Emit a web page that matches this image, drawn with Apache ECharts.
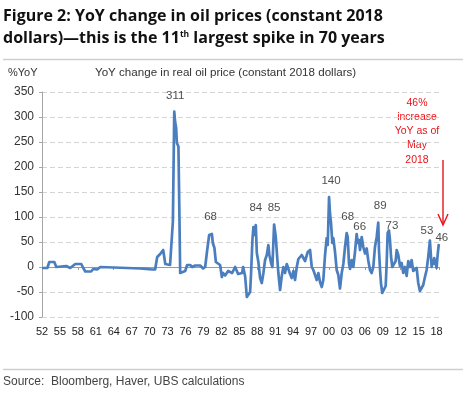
<!DOCTYPE html>
<html>
<head>
<meta charset="utf-8">
<script src="https://cdn.jsdelivr.net/npm/echarts@6/dist/echarts.min.js"></script>
<style>html,body{margin:0;padding:0;background:#fff}#c{width:470px;height:393px}</style>
</head>
<body>
<div id="c"></div>
<script>
// Decimal year of each reading (time axis) and YoY % change in real oil price
const years = [1952.0,1952.89,1953.22,1954.06,1954.39,1954.72,1956.06,1956.72,1957.57,1958.57,1958.9,1959.24,1960.22,1960.57,1961.22,1961.74,1966.26,1968.42,1970.42,1970.92,1971.27,1971.77,1972.27,1972.62,1973.42,1973.72,1973.89,1974.12,1974.27,1974.44,1974.56,1974.82,1974.99,1975.11,1975.95,1976.28,1976.78,1977.12,1977.62,1978.45,1978.95,1979.29,1979.57,1979.96,1980.2,1980.41,1980.57,1980.84,1981.08,1981.29,1981.79,1982.08,1982.29,1982.63,1983.13,1983.8,1984.3,1984.8,1985.47,1985.64,1985.97,1986.26,1986.42,1986.81,1986.97,1987.19,1987.36,1987.53,1987.76,1987.93,1988.19,1988.48,1988.76,1989.03,1989.31,1989.6,1989.86,1990.03,1990.32,1990.53,1990.82,1991.1,1991.37,1991.53,1991.82,1992.1,1992.37,1992.65,1992.94,1993.21,1993.49,1993.77,1994.04,1994.32,1994.61,1994.88,1995.16,1995.44,1996.0,1996.45,1996.83,1997.12,1997.38,1997.67,1997.95,1998.22,1998.5,1998.79,1999.05,1999.34,1999.62,1999.79,2000.01,2000.17,2000.34,2000.56,2000.72,2001.01,2001.29,2001.56,2001.84,2002.13,2002.4,2002.68,2002.96,2003.13,2003.35,2003.52,2003.8,2004.07,2004.35,2004.63,2004.8,2005.02,2005.19,2005.47,2005.74,2006.02,2006.31,2006.57,2006.86,2007.14,2007.41,2007.69,2007.98,2008.24,2008.36,2008.53,2008.69,2008.91,2009.2,2009.48,2009.65,2009.81,2010.03,2010.2,2010.37,2010.58,2010.87,2011.15,2011.32,2011.59,2011.87,2012.15,2012.42,2012.71,2012.99,2013.26,2013.54,2013.82,2014.09,2014.38,2014.66,2014.93,2015.21,2015.49,2015.76,2016.05,2016.33,2016.6,2016.88,2017.05,2017.17,2017.27,2017.44,2017.6,2017.83,2018.0,2018.17,2018.37];
const yoyValues = [-2,-2,10,10,0,2,2,-2,6,6,-2,-9,-9,-4,-5,0,-2,-3,-5,-5,20,26,34,6,4,8,91,311,290,278,248,241,98,-12,-8,4,4,0,3,3,-3,0,28,64,68,66,48,38,10,8,4,-20,-12,-17,-8,-12,0,-14,-12,0,-18,-60,-64,-50,-12,54,80,64,84,28,10,-22,-32,-12,14,24,44,24,8,0,85,60,14,-12,-46,-18,0,-12,6,-4,-14,-22,-8,-26,0,16,12,24,12,30,34,0,-6,-16,-26,-12,-30,-40,-26,24,58,44,140,107,88,48,58,30,-6,-16,-43,-12,6,40,68,60,6,-4,14,0,30,66,48,54,34,60,40,27,37,13,-6,-12,0,40,60,89,34,-4,-32,-52,-56,-38,8,68,73,54,22,0,-4,12,34,24,2,8,-12,0,-18,12,0,14,-8,-12,-2,-32,-48,-46,-36,-20,-6,20,53,50,0,14,6,18,14,-2,24,46];
// Labelled peaks
const peakYears  = [1974.12, 1980.2, 1987.76, 1990.82, 2000.01, 2002.96, 2004.63, 2008.24, 2010.03, 2016.88, 2018.37];
const peakValues = [311, 68, 84, 85, 140, 68, 66, 89, 73, 53, 46];
const peakLabelOffsets = [[1,-16],[0,-16],[0,-17],[0,-16.5],[2,-16],[1,-16],[3,-7],[2,-16.5],[3,-5],[-3,-9.5],[3,-6.5]];
// Axis settings
const yMin = -100, yMax = 350, yStep = 50;
const xMin = 1952, xMax = 2018.4, xLabelStep = 3, xTickStep = 6;
const noteLines = ['46%', 'increase', 'YoY as of', 'May', '2018'];

const chart = echarts.init(document.getElementById('c'), null, {renderer: 'canvas'});
const RED = '#e8141a';
const graphics = [
  {type:'line', shape:{x1:3,y1:59.5,x2:463,y2:59.5}, style:{stroke:'#cfcfcf', lineWidth:1.5}},
  {type:'line', shape:{x1:3,y1:369.5,x2:463,y2:369.5}, style:{stroke:'#cfcfcf', lineWidth:1.5}},
  {type:'line', shape:{x1:443,y1:160,x2:443,y2:224}, style:{stroke:RED, lineWidth:1.4}},
  {type:'polyline', shape:{points:[[438,214],[443,225],[448,214]]}, style:{stroke:RED, lineWidth:1.4, fill:null}}
];
noteLines.forEach((t, i) => graphics.push({
  type:'text', x:417, y:103 + i*14.2,
  style:{text:t, fill:RED, font:'10.5px "Liberation Sans"', align:'center', verticalAlign:'middle'}
}));

chart.setOption({
  animation: false,
  backgroundColor: '#fff',
  title: [
    {left: 3, top: 5, padding: 0,
     text: '{b|Figure 2: YoY change in oil prices (constant 2018}\n{b|dollars)—this is the 11}{s|th}{b| largest spike in 70 years}',
     textStyle: {rich: {
       b: {fontFamily:'Open Sans', fontWeight:'bold', fontSize:16, lineHeight:22, color:'#111'},
       s: {fontFamily:'Open Sans', fontWeight:'bold', fontSize:8.5, lineHeight:22, verticalAlign:'middle', padding:[0,0,7,0], color:'#111'}
     }}},
    {left: 8, top: 67, padding: 0, text: '%YoY', textStyle:{fontFamily:'Liberation Sans', fontWeight:'normal', fontSize:11, color:'#333'}},
    {left: 95, top: 67, padding: 0, text: 'YoY change in real oil price (constant 2018 dollars)', textStyle:{fontFamily:'Liberation Sans', fontWeight:'normal', fontSize:11.6, color:'#333'}},
    {left: 3, top: 376, padding: 0, text: 'Source:  Bloomberg, Haver, UBS calculations', textStyle:{fontFamily:'Liberation Sans', fontWeight:'normal', fontSize:12, color:'#444'}}
  ],
  grid: {left: 42, right: 31, top: 92, bottom: 76, containLabel: false},
  xAxis: [
    {type:'value', min:xMin, max:xMax, interval:xTickStep, position:'bottom',
     axisLine:{show:true, onZero:true, lineStyle:{color:'#9a9a9a', width:1}},
     axisTick:{show:true, length:3, lineStyle:{color:'#9a9a9a'}},
     axisLabel:{show:false}, splitLine:{show:false}},
    {type:'value', min:xMin, max:xMax, interval:xLabelStep, position:'bottom',
     axisLine:{show:false, onZero:false}, axisTick:{show:false}, splitLine:{show:false},
     axisLabel:{show:true, margin:9, fontFamily:'Liberation Sans', fontSize:11, color:'#222',
       formatter: v => { const r = Math.round(v); if (Math.abs(v - r) > 1e-6 || (r - xMin) % xLabelStep !== 0) return ''; return String(r % 100).padStart(2, '0'); }}}
  ],
  yAxis: {type:'value', min:yMin, max:yMax, interval:yStep,
    axisLine:{show:true, lineStyle:{color:'#a6a6a6', width:1}},
    axisTick:{show:true, length:3, lineStyle:{color:'#a6a6a6'}},
    axisLabel:{margin:8, fontFamily:'Liberation Sans', fontSize:12, color:'#333'},
    splitLine:{show:true, lineStyle:{type:[5,3], color:'#d4d4d4', width:1}}},
  series: [
    {type:'line', xAxisIndex:0, data: years.map((y, i) => [y, yoyValues[i]]),
     showSymbol:false, symbol:'none', lineStyle:{color:'#4a7ebf', width:2.7, join:'round'}, z:3},
    {type:'scatter', xAxisIndex:0, symbolSize:0, z:4,
     data: peakYears.map((y, i) => ({value:[y, peakValues[i]],
       label:{show:true, position:'inside', offset:peakLabelOffsets[i], formatter:String(peakValues[i]),
              fontFamily:'Liberation Sans', fontSize:11.5, color:'#222'}}))}
  ],
  graphic: graphics
});
</script>
</body>
</html>
